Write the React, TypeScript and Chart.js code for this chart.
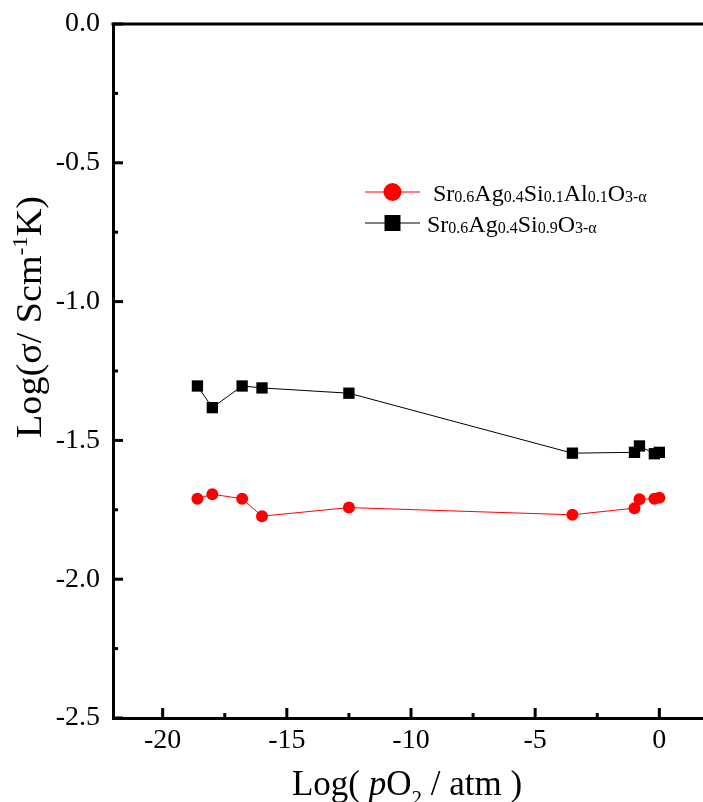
import React, { useEffect, useRef } from "react";
import { Chart, registerables } from "chart.js";

Chart.register(...registerables);

// ---- data ----
const logPO2 = [-18.6, -18.0, -16.8, -16.0, -12.5, -3.5, -1.0, -0.8, -0.2, 0.0];
const sigmaAlDoped = [-1.71, -1.694, -1.71, -1.773, -1.742, -1.768, -1.744, -1.712, -1.71, -1.707];
const sigmaUndoped = [-1.304, -1.382, -1.304, -1.311, -1.33, -1.546, -1.543, -1.52, -1.548, -1.543];

const xMajorTicks = [-20, -15, -10, -5, 0];
const xMinorTicks = [-17.5, -12.5, -7.5, -2.5];
const yMajorTicks = [0, -0.5, -1, -1.5, -2, -2.5];
const yMinorTicks = [-0.25, -0.75, -1.25, -1.75, -2.25];

// legend names: [text, isSubscript]
const alDopedName: [string, boolean][] = [
  [" Sr", false], ["0.6", true], ["Ag", false], ["0.4", true], ["Si", false], ["0.1", true],
  ["Al", false], ["0.1", true], ["O", false], ["3-\u03b1", true],
];
const undopedName: [string, boolean][] = [
  ["Sr", false], ["0.6", true], ["Ag", false], ["0.4", true], ["Si", false], ["0.9", true],
  ["O", false], ["3-\u03b1", true],
];

const SERIF = "Liberation Serif";
Chart.defaults.font.family = SERIF;

type Seg = { t: string; font: string; dy: number };

function richWidth(ctx: CanvasRenderingContext2D, segs: Seg[]) {
  let w = 0;
  for (const s of segs) {
    ctx.font = s.font;
    w += ctx.measureText(s.t).width;
  }
  return w;
}
function drawRich(ctx: CanvasRenderingContext2D, segs: Seg[], x: number, y: number) {
  let cx = x;
  ctx.textAlign = "left";
  ctx.textBaseline = "alphabetic";
  for (const s of segs) {
    ctx.font = s.font;
    ctx.fillText(s.t, cx, y + s.dy);
    cx += ctx.measureText(s.t).width;
  }
}

const decorPlugin = {
  id: "decor",
  afterDraw(chart: any) {
    const { ctx, chartArea: a, scales } = chart;
    const xs = scales.x;
    const ys = scales.y;
    ctx.save();
    ctx.strokeStyle = "#000";
    ctx.fillStyle = "#000";
    // top frame line
    ctx.lineWidth = 3;
    ctx.beginPath();
    ctx.moveTo(a.left - 1.5, a.top);
    ctx.lineTo(a.right + 1.5, a.top);
    ctx.stroke();
    // inward ticks
    const tick = (x1: number, y1: number, x2: number, y2: number) => {
      ctx.beginPath();
      ctx.moveTo(x1, y1);
      ctx.lineTo(x2, y2);
      ctx.stroke();
    };
    ctx.lineWidth = 3;
    for (const v of xMajorTicks) {
      const px = xs.getPixelForValue(v);
      tick(px, a.bottom, px, a.bottom - 10);
    }
    for (const v of xMinorTicks) {
      const px = xs.getPixelForValue(v);
      tick(px, a.bottom, px, a.bottom - 5);
    }
    for (const v of yMajorTicks) {
      const py = ys.getPixelForValue(v);
      tick(a.left, py, a.left + 10, py);
    }
    for (const v of yMinorTicks) {
      const py = ys.getPixelForValue(v);
      tick(a.left, py, a.left + 5, py);
    }

    // axis titles
    const big = `35px "${SERIF}"`;
    const xTitle: Seg[] = [
      { t: "Log( ", font: big, dy: 0 },
      { t: "p", font: `italic 35px "${SERIF}"`, dy: 0 },
      { t: "O", font: big, dy: 0 },
      { t: "2", font: `21px "${SERIF}"`, dy: 10 },
      { t: " / atm )", font: big, dy: 0 },
    ];
    const xw = richWidth(ctx, xTitle);
    drawRich(ctx, xTitle, (a.left + a.right) / 2 - 4 - xw / 2, 795);

    const yTitle: Seg[] = [
      { t: "Log(\u03c3/ Scm", font: big, dy: 0 },
      { t: "-1", font: `21px "${SERIF}"`, dy: -14 },
      { t: "K)", font: big, dy: 0 },
    ];
    ctx.save();
    ctx.translate(41, 438);
    ctx.rotate(-Math.PI / 2);
    ctx.scale(1.09, 1);
    drawRich(ctx, yTitle, 0, 0);
    ctx.restore();

    // legend
    const entries = [
      { ds: chart.data.datasets[0], name: alDopedName, cy: 192, shape: "circle" },
      { ds: chart.data.datasets[1], name: undopedName, cy: 223, shape: "rect" },
    ];
    for (const e of entries) {
      ctx.strokeStyle = e.ds.borderColor;
      ctx.fillStyle = e.ds.backgroundColor;
      ctx.lineWidth = 1.2;
      ctx.beginPath();
      ctx.moveTo(365, e.cy);
      ctx.lineTo(420, e.cy);
      ctx.stroke();
      if (e.shape === "circle") {
        ctx.beginPath();
        ctx.arc(392.5, e.cy, 9, 0, Math.PI * 2);
        ctx.fill();
      } else {
        ctx.fillRect(392.5 - 8, e.cy - 8, 16, 16);
      }
      ctx.fillStyle = "#000";
      const segs: Seg[] = e.name.map(([t, sub]) => ({
        t,
        font: sub ? `16px "${SERIF}"` : `24px "${SERIF}"`,
        dy: sub ? 1 : 0,
      }));
      drawRich(ctx, segs, 427, e.cy + 9);
    }
    ctx.restore();
  },
};

export default function App() {
  const ref = useRef<HTMLCanvasElement | null>(null);
  useEffect(() => {
    if (!ref.current) return;
    const tickFont = { family: SERIF, size: 28 };
    const chart = new Chart(ref.current, {
      type: "line",
      data: {
        datasets: [
          {
            label: "Sr0.6Ag0.4Si0.1Al0.1O3-\u03b1",
            data: logPO2.map((x, i) => ({ x, y: sigmaAlDoped[i] })),
            borderColor: "#ff0000",
            backgroundColor: "#ff0000",
            borderWidth: 1,
            pointStyle: "circle",
            pointRadius: 6,
            pointBorderWidth: 0,
            tension: 0,
          },
          {
            label: "Sr0.6Ag0.4Si0.9O3-\u03b1",
            data: logPO2.map((x, i) => ({ x, y: sigmaUndoped[i] })),
            borderColor: "#000000",
            backgroundColor: "#000000",
            borderWidth: 1,
            pointStyle: "rect",
            pointRadius: 8,
            pointBorderWidth: 0,
            tension: 0,
          },
        ],
      },
      options: {
        animation: false,
        responsive: false,
        events: [],
        layout: { padding: { top: 24, right: 11, left: 0, bottom: 0 } },
        plugins: { legend: { display: false }, tooltip: { enabled: false } },
        scales: {
          x: {
            type: "linear",
            min: -22,
            max: 2,
            afterBuildTicks: (s: any) => {
              s.ticks = xMajorTicks.map((v) => ({ value: v }));
            },
            afterFit: (s: any) => {
              s.height = 84;
              s.paddingLeft = 0;
              s.paddingRight = 0;
            },
            ticks: {
              font: tickFont,
              color: "#000",
              padding: 6,
              maxRotation: 0,
              callback: (v: any) => String(v),
            },
            grid: { display: false, drawTicks: false },
            border: { display: true, color: "#000", width: 3 },
          },
          y: {
            type: "linear",
            min: -2.5,
            max: 0,
            afterBuildTicks: (s: any) => {
              s.ticks = yMajorTicks.map((v) => ({ value: v }));
            },
            afterFit: (s: any) => {
              s.width = 113;
              s.paddingTop = 0;
              s.paddingBottom = 0;
            },
            ticks: {
              font: tickFont,
              color: "#000",
              padding: 13,
              callback: (v: any) => Number(v).toFixed(1),
            },
            grid: { display: false, drawTicks: false },
            border: { display: true, color: "#000", width: 3 },
          },
        },
      },
      plugins: [decorPlugin],
    } as any);
    return () => chart.destroy();
  }, []);
  return (
    <div
      style={{
        position: "fixed",
        left: 0,
        top: 0,
        width: 703,
        height: 802,
        overflow: "hidden",
        background: "#fff",
      }}
    >
      <canvas
        ref={ref}
        width={720}
        height={802}
        style={{ position: "absolute", left: 0, top: 0, width: 720, height: 802 }}
      />
    </div>
  );
}
